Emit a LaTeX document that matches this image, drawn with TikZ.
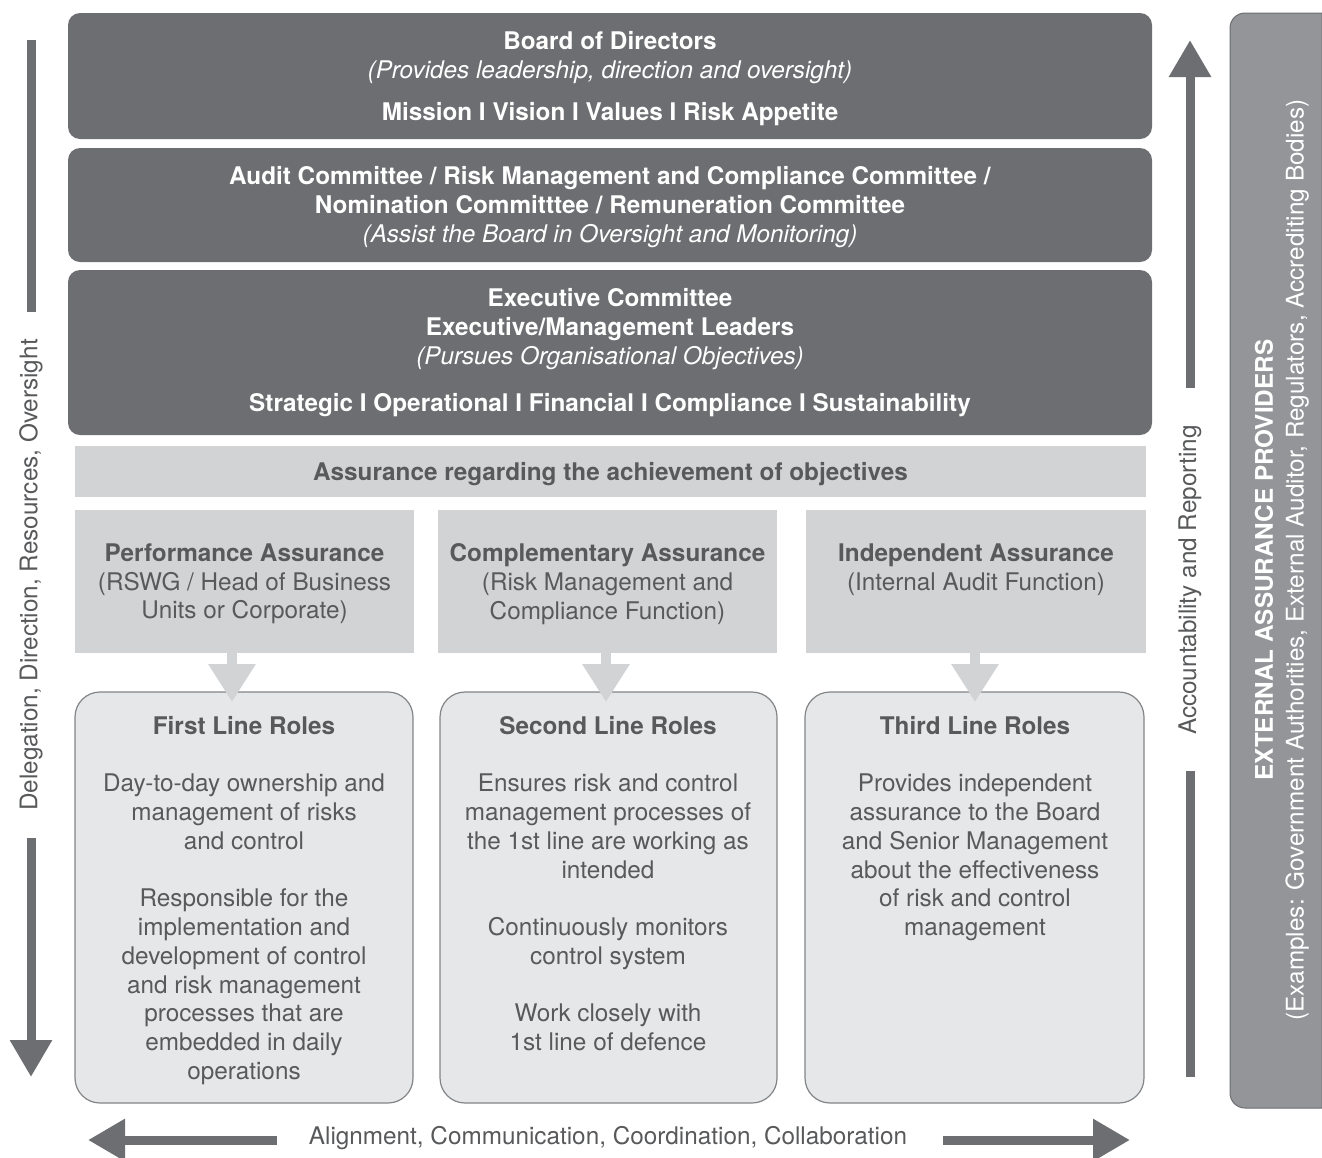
\documentclass[tikz,border=0pt]{standalone}
\usepackage{fontspec}
\setmainfont{TeX Gyre Heros}
\usepackage{xcolor}
\usepackage{tikz}
\usetikzlibrary{arrows.meta,positioning}

\definecolor{darkgrey}{HTML}{6D6E71}
\definecolor{midgrey}{HTML}{939598}
\definecolor{lightgrey}{HTML}{D1D3D4}
\definecolor{palegrey}{HTML}{E6E7E8}
\definecolor{textgrey}{HTML}{58595B}

\begin{document}
\begin{tikzpicture}[
    x=1pt, y=-1pt,
    every node/.style={font=\fontsize{24.3}{28.75}\selectfont},
    darkbox/.style={fill=darkgrey, rounded corners=12pt, text=white, align=center, minimum width=1084pt},
    assbox/.style={fill=lightgrey, minimum width=339pt, minimum height=143pt},
    rolebox/.style={draw=darkgrey!85, line width=1.2pt, fill=palegrey, rounded corners=25pt, minimum height=411pt},
    boxtext/.style={text=textgrey, align=center, anchor=north, inner sep=0pt},
    sidetext/.style={text=textgrey, rotate=90},
    shaft/.style={draw=darkgrey, line width=9pt},
    bigarrow/.style={shaft, -{Triangle[length=37pt,width=40pt]}},
    downarrow/.style={draw=lightgrey, line width=10pt, -{Triangle[length=38pt,width=45pt]}}
]
    \useasboundingbox (0,0) rectangle (1322,1157);

    % Governing bodies
    \node[darkbox, minimum height=126pt] (board) at (610,76)
        {\rule{0pt}{23pt}\textbf{Board of Directors}\\[0.5pt] \textit{(Provides leadership, direction and oversight)}\\[13pt]
         \textbf{Mission I Vision I Values I Risk Appetite}};
    \node[darkbox, minimum height=114pt] (committees) at (610,205)
        {\rule{0pt}{22pt}\textbf{Audit Committee / Risk Management and Compliance Committee /}\\
         \textbf{Nomination Committtee / Remuneration Committee}\\
         \textit{(Assist the Board in Oversight and Monitoring)}};
    \node[darkbox, minimum height=165pt] (executive) at (610,352.5)
        {\textbf{Executive Committee}\\ \textbf{Executive/Management Leaders}\\
         \textit{(Pursues Organisational Objectives)}\\[18pt]
         \textbf{Strategic I Operational I Financial I Compliance I Sustainability}};

    % Assurance
    \node[fill=lightgrey, minimum width=1071pt, minimum height=51pt, text depth=1pt, text=textgrey, font=\fontsize{24.3}{28.75}\selectfont\bfseries] (objectives) at (610.5,471.5)
        {Assurance regarding the achievement of objectives};
    \node[assbox] (perf) at (244.5,581.5) {};
    \node[assbox] (comp) at (607.5,581.5) {};
    \node[assbox, minimum width=340pt] (indep) at (976,581.5) {};
    \node[boxtext] (perftext) at (244.5,543.5)
        {\textbf{Performance Assurance}\\(RSWG / Head of Business\\Units or Corporate)};
    \node[boxtext] (comptext) at (607.5,543.5)
        {\textbf{Complementary Assurance}\\(Risk Management and\\Compliance Function)};
    \node[boxtext] (indeptext) at (976,543.5)
        {\textbf{Independent Assurance}\\(Internal Audit Function)};

    % Three lines
    \node[rolebox, minimum width=338pt] (first) at (244,897.5) {};
    \node[rolebox, minimum width=337pt] (second) at (608.5,897.5) {};
    \node[rolebox, minimum width=339pt] (third) at (974.5,897.5) {};

    \coordinate (tip1) at (232,702);
    \coordinate (tip2) at (606,702);
    \coordinate (tip3) at (975,702);
    \draw[downarrow] (perf.south -| tip1) -- (tip1);
    \draw[downarrow] (comp.south -| tip2) -- (tip2);
    \draw[downarrow] (indep.south -| tip3) -- (tip3);

    \node[boxtext] (firsttext) at (244,716)
        {\textbf{First Line Roles}\\[28.75pt]
         Day-to-day ownership and\\management of risks\\and control\\[28.75pt]
         Responsible for the\\implementation and\\development of control\\and risk management\\processes that are\\embedded in daily\\operations};
    \node[boxtext] (secondtext) at (608,716)
        {\textbf{Second Line Roles}\\[28.75pt]
         Ensures risk and control\\management processes of\\the 1st line are working as\\intended\\[28.75pt]
         Continuously monitors\\control system\\[28.75pt]
         Work closely with\\1st line of defence};
    \node[boxtext] (thirdtext) at (975,716)
        {\textbf{Third Line Roles}\\[28.75pt]
         Provides independent\\assurance to the Board\\and Senior Management\\about the effectiveness\\of risk and control\\management};

    % Delegation down the left
    \node[sidetext] (delegation) at (31,575) {Delegation, Direction, Resources, Oversight};
    \coordinate (deltop) at (31,40);
    \coordinate (delmid) at (31,312);
    \coordinate (dellow) at (31,838);
    \coordinate (deltip) at (31,1077);
    \draw[shaft] (deltop) -- (delmid);
    \draw[bigarrow] (dellow) -- (deltip);

    % Accountability up the right
    \node[sidetext] (accountability) at (1190,580) {Accountability and Reporting};
    \coordinate (acctip) at (1190,40);
    \coordinate (accmid) at (1190,388);
    \coordinate (acclow) at (1190,771);
    \coordinate (accbot) at (1190,1077);
    \draw[bigarrow] (accmid) -- (acctip);
    \draw[shaft] (acclow) -- (accbot);

    % Alignment along the bottom
    \node[text=textgrey] (alignment) at (608,1138) {Alignment, Communication, Coordination, Collaboration};
    \coordinate (alleft) at (277,1140);
    \coordinate (altipl) at (88,1140);
    \coordinate (alright) at (943,1140);
    \coordinate (altipr) at (1130,1140);
    \draw[bigarrow] (alleft) -- (altipl);
    \draw[bigarrow] (alright) -- (altipr);

    % External providers
    \fill[midgrey, draw=darkgrey, line width=1pt] (1322,13) [rounded corners=15pt]-- (1230,13) -- (1230,1108) [sharp corners]-- (1322,1108) -- cycle;
    \node[rotate=90, text=white, align=center] (external) at (1282,560)
        {\textbf{EXTERNAL ASSURANCE PROVIDERS}\\[2pt]
         (Examples: Government Authorities, External Auditor, Regulators, Accrediting Bodies)};
\end{tikzpicture}
\end{document}
